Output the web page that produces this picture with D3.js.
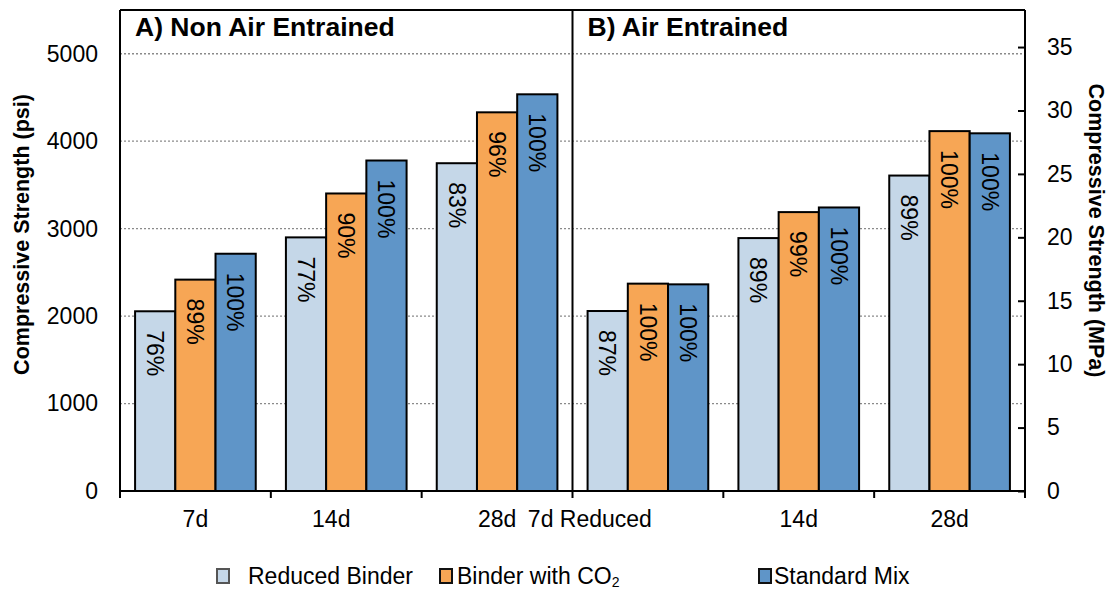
<!DOCTYPE html>
<html>
<head>
<meta charset="utf-8">
<script src="https://cdn.jsdelivr.net/npm/d3@7"></script>
<style>
  html, body { margin: 0; padding: 0; background: #fff; }
  svg { display: block; font-family: "Liberation Sans", Arial, sans-serif; }
</style>
</head>
<body>
<svg id="chart" width="1112" height="590"></svg>
<script>
// ---------------- data ----------------
const panelTitles = ["A) Non Air Entrained", "B) Air Entrained"];
const categories = ["NA-7d", "NA-14d", "NA-28d", "AE-7d", "AE-14d", "AE-28d"];
const tickLabels = ["7d", "14d", "28d", "7d Reduced", "14d", "28d"];
const seriesNames = ["Reduced Binder", "Binder with CO2", "Standard Mix"];
const reducedBinder = [2055, 2900, 3748, 2058, 2892, 3607];
const binderWithCO2 = [2417, 3402, 4330, 2371, 3189, 4115];
const standardMix   = [2713, 3779, 4536, 2363, 3242, 4090];
const pctReduced = ["76%", "77%", "83%", "87%", "89%", "89%"];
const pctCO2     = ["89%", "90%", "96%", "100%", "99%", "100%"];
const pctStd     = ["100%", "100%", "100%", "100%", "100%", "100%"];
const psiTicks = [0, 1000, 2000, 3000, 4000, 5000];
const mpaTicks = [0, 5, 10, 15, 20, 25, 30, 35];
const psiMax = 5500;
const psiToMPa = 0.00689476;

// ---------------- layout / style ----------------
const colors = ["#C5D7E8", "#F7A655", "#5F95C8"];
const mLeft = 120, mRight = 1025, mTop = 10, mBottom = 491;
const tickDx = [0, -15, 0, 4, 0, 0];
const tickAnchor = ["middle", "middle", "middle", "end", "middle", "middle"];
const font = "'Liberation Sans', Arial, sans-serif";

const svg = d3.select("#chart");

const x0 = d3.scaleBand().domain(categories).range([mLeft, mRight]).padding(0);
const bw = x0.bandwidth();
const x1 = d3.scaleBand().domain(seriesNames).range([bw * 0.1, bw * 0.9]).padding(0);
const y = d3.scaleLinear().domain([0, psiMax]).range([mBottom, mTop]);
const yM = d3.scaleLinear().domain([0, psiMax * psiToMPa]).range([mBottom, mTop]);

// gridlines
svg.append("g").selectAll("line").data(psiTicks.filter(d => d > 0)).join("line")
  .attr("x1", mLeft).attr("x2", mRight)
  .attr("y1", d => y(d)).attr("y2", d => y(d))
  .attr("stroke", "#8a8a8a").attr("stroke-width", 1.3).attr("stroke-dasharray", "2,2");

// bars
const seriesVals = [reducedBinder, binderWithCO2, standardMix];
const seriesPct = [pctReduced, pctCO2, pctStd];
const barData = [];
categories.forEach((c, i) => {
  seriesNames.forEach((s, j) => {
    barData.push({ cat: c, ser: s, j, v: seriesVals[j][i], p: seriesPct[j][i] });
  });
});

const bars = svg.append("g");
bars.selectAll("rect").data(barData).join("rect")
  .attr("x", d => x0(d.cat) + x1(d.ser))
  .attr("y", d => y(d.v))
  .attr("width", x1.bandwidth())
  .attr("height", d => y(0) - y(d.v))
  .attr("fill", d => colors[d.j])
  .attr("stroke", "#000").attr("stroke-width", 2);

// percent labels (rotated)
bars.selectAll("text").data(barData).join("text")
  .attr("transform", d => `translate(${x0(d.cat) + x1(d.ser) + x1.bandwidth() / 2},${y(d.v) + 19}) rotate(90)`)
  .attr("dy", "0.36em")
  .attr("text-anchor", "start")
  .attr("font-size", 23)
  .attr("fill", "#000")
  .text(d => d.p);

// frame
const frame = svg.append("g").attr("stroke", "#000").attr("stroke-width", 2).attr("fill", "none");
frame.append("line").attr("x1", mLeft).attr("x2", mRight).attr("y1", mTop).attr("y2", mTop);
frame.append("line").attr("x1", mLeft).attr("x2", mLeft).attr("y1", mTop).attr("y2", mBottom);
frame.append("line").attr("x1", mRight).attr("x2", mRight).attr("y1", mTop).attr("y2", mBottom);
frame.append("line").attr("x1", x0(categories[3])).attr("x2", x0(categories[3])).attr("y1", mTop).attr("y2", mBottom);

// bottom axis
const xAxisG = svg.append("g").attr("transform", `translate(0,${mBottom})`);
xAxisG.append("line").attr("x1", mLeft - 1).attr("x2", mRight + 1).attr("stroke", "#000").attr("stroke-width", 2);
const boundaries = categories.map(c => x0(c)).concat([mRight]);
xAxisG.selectAll("line.tk").data(boundaries).join("line").attr("class", "tk")
  .attr("x1", d => d).attr("x2", d => d).attr("y1", 0).attr("y2", 7)
  .attr("stroke", "#000").attr("stroke-width", 2);
xAxisG.selectAll("text").data(tickLabels).join("text")
  .attr("x", (d, i) => x0(categories[i]) + bw / 2 + tickDx[i])
  .attr("y", 36)
  .attr("text-anchor", (d, i) => tickAnchor[i])
  .attr("font-size", 23)
  .text(d => d);

// left axis (psi)
const yAxisL = d3.axisLeft(y).tickValues(psiTicks).tickFormat(d3.format("d")).tickSize(0).tickPadding(22);
const gL = svg.append("g").attr("transform", `translate(${mLeft},0)`).call(yAxisL);
gL.select(".domain").remove();
gL.selectAll("text").attr("font-size", 23).attr("font-family", font).attr("fill", "#000");

// right axis (MPa)
const yAxisR = d3.axisRight(yM).tickValues(mpaTicks).tickFormat(d3.format("d")).tickSize(0).tickPadding(22);
const gR = svg.append("g").attr("transform", `translate(${mRight},0)`).call(yAxisR);
gR.select(".domain").remove();
gR.selectAll("text").attr("font-size", 23).attr("font-family", font).attr("fill", "#000");
gR.selectAll(".tick").append("line")
  .attr("x1", -7).attr("x2", 0).attr("y1", 0).attr("y2", 0)
  .attr("stroke", "#000").attr("stroke-width", 2);

// axis titles
svg.append("text")
  .attr("transform", `translate(21,${(mTop + mBottom) / 2 - 16}) rotate(-90)`)
  .attr("text-anchor", "middle").attr("dy", "0.35em")
  .attr("font-size", 21.5).attr("font-weight", "bold")
  .text("Compressive Strength (psi)");
svg.append("text")
  .attr("transform", `translate(1097,${(mTop + mBottom) / 2 - 20}) rotate(90)`)
  .attr("text-anchor", "middle").attr("dy", "0.35em")
  .attr("font-size", 21.5).attr("font-weight", "bold")
  .text("Compressive Strength (MPa)");

// panel titles
svg.selectAll("text.ptitle").data(panelTitles).join("text").attr("class", "ptitle")
  .attr("x", (d, i) => x0(categories[i * 3]) + 15)
  .attr("y", 36)
  .attr("font-size", 26.5).attr("font-weight", "bold")
  .text(d => d);

// legend
const legendX = [{ sx: 217, tx: 248 }, { sx: 440, tx: 457 }, { sx: 759, tx: 774 }];
const lg = svg.append("g");
seriesNames.forEach((s, j) => {
  lg.append("rect")
    .attr("x", legendX[j].sx).attr("y", 569)
    .attr("width", 12).attr("height", 14)
    .attr("fill", colors[j])
    .attr("stroke", j === 0 ? "#555" : "#111").attr("stroke-width", 2);
  const t = lg.append("text")
    .attr("x", legendX[j].tx).attr("y", 584)
    .attr("font-size", 23);
  if (s === "Binder with CO2") {
    t.append("tspan").text("Binder with CO");
    t.append("tspan").attr("font-size", 14).attr("dy", 3).text("2");
  } else {
    t.text(s);
  }
});
</script>
</body>
</html>
